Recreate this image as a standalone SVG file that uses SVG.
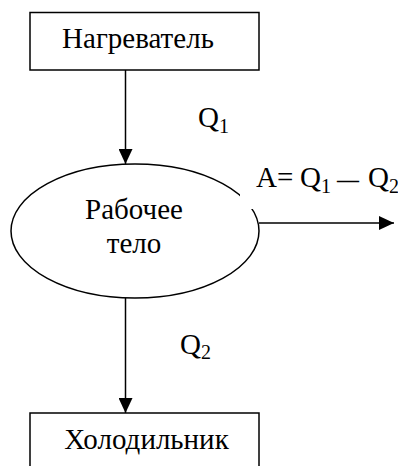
<svg xmlns="http://www.w3.org/2000/svg" width="398" height="466" viewBox="0 0 398 466">
<defs>
<style>
.box{fill:#fff;stroke:#000;stroke-width:1.5}
.t{font-family:"Liberation Serif","Times New Roman",serif;font-size:29px;fill:#000}
.sub{font-size:20px}
.dash{font-size:22px;font-weight:bold}
.ln{stroke:#000;stroke-width:1.5;fill:none}
</style>
<marker id="ah" viewBox="0 0 15 14" refX="15" refY="7" markerWidth="15" markerHeight="14" markerUnits="userSpaceOnUse" orient="auto">
<path d="M0,0 L15,7 L0,14 Z" fill="#000"/>
</marker>
</defs>
<rect width="398" height="466" fill="#fff"/>
<g id="connectors">
<line class="ln" x1="125.5" y1="70" x2="125.5" y2="164" marker-end="url(#ah)"/>
<line class="ln" x1="125.5" y1="298" x2="125.5" y2="413" marker-end="url(#ah)"/>
<line class="ln" x1="259" y1="223" x2="394" y2="223" marker-end="url(#ah)"/>
</g>
<g id="heater">
<rect class="box" x="30" y="12.5" width="229" height="57.5"/>
<text class="t" x="138" y="48" text-anchor="middle">Нагреватель</text>
</g>
<g id="body">
<ellipse class="box" cx="135" cy="231" rx="124" ry="67"/>
<rect x="240" y="194" width="14" height="15" fill="#fff"/>
<text class="t" x="134" y="219" text-anchor="middle">Рабочее</text>
<text class="t" x="134" y="253" text-anchor="middle">тело</text>
</g>
<g id="cooler">
<rect class="box" x="30" y="413" width="229" height="60"/>
<text class="t" x="146.5" y="449" text-anchor="middle">Холодильник</text>
</g>
<g id="labels">
<text class="t" x="198" y="127">Q<tspan class="sub" dy="6">1</tspan></text>
<text class="t" x="180" y="354">Q<tspan class="sub" dy="5">2</tspan></text>
<text class="t" x="256" y="187">A= <tspan x="300">Q</tspan><tspan class="sub" x="321" dy="6">1</tspan><tspan class="dash" x="337" dy="-6">—</tspan><tspan x="368">Q</tspan><tspan class="sub" x="389" dy="6">2</tspan></text>
</g>
</svg>
